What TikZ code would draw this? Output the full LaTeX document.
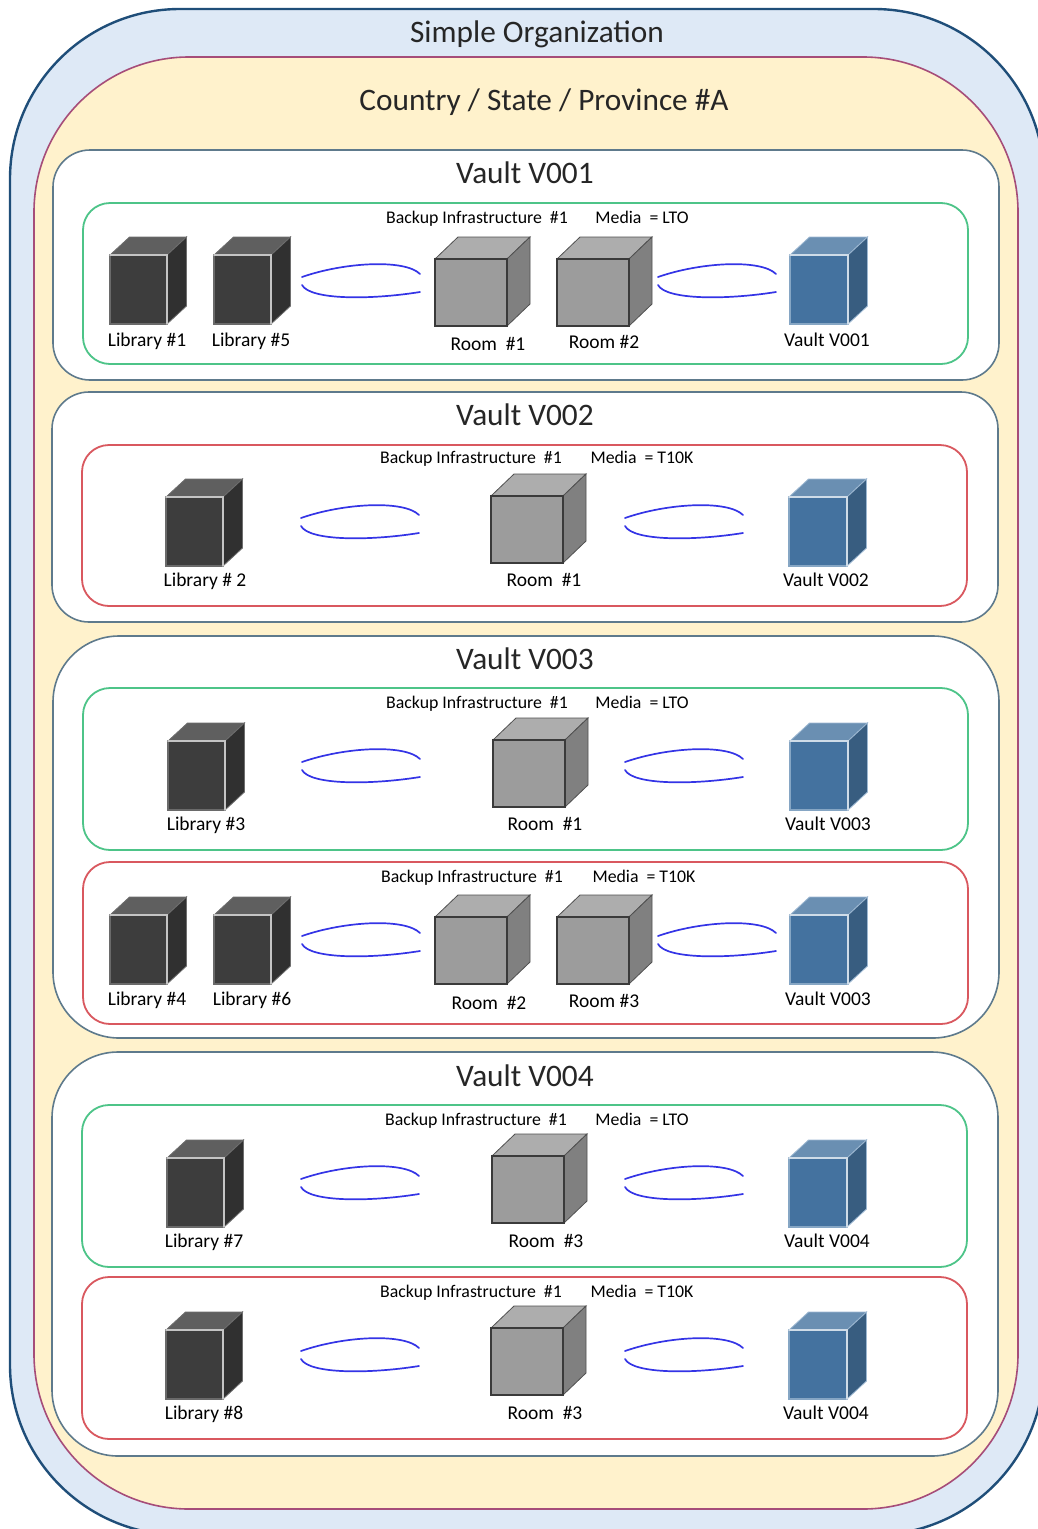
\documentclass[tikz,border=0pt]{standalone}
\usepackage{fontspec}
\setmainfont{Carlito}
\definecolor{orgfill}{HTML}{DEE9F6}\definecolor{orgline}{HTML}{1F4E79}
\definecolor{ctryfill}{HTML}{FFF2CC}\definecolor{ctryline}{HTML}{A64D79}
\definecolor{vaultline}{HTML}{5E7A8C}\definecolor{grn}{HTML}{4DC488}\definecolor{rd}{HTML}{D9585F}
\definecolor{libF}{HTML}{3D3D3D}\definecolor{libT}{HTML}{5F5F5F}\definecolor{libS}{HTML}{303030}\definecolor{libE}{HTML}{C4C4C4}\definecolor{libL}{HTML}{6A6A6A}\definecolor{libO}{HTML}{6E6E6E}
\definecolor{rmF}{HTML}{9C9C9C}\definecolor{rmT}{HTML}{ADADAD}\definecolor{rmS}{HTML}{808080}\definecolor{rmE}{HTML}{3A3A3A}\definecolor{rmL}{HTML}{3A3A3A}\definecolor{rmO}{HTML}{505050}
\definecolor{vtF}{HTML}{44729F}\definecolor{vtT}{HTML}{6A8FB2}\definecolor{vtS}{HTML}{385D80}\definecolor{vtE}{HTML}{CFDCE8}\definecolor{vtL}{HTML}{86A6C4}\definecolor{vtO}{HTML}{9DB8D2}
\definecolor{txt}{HTML}{262626}\definecolor{lnkc}{HTML}{3434E6}
\tikzset{
  x=1pt,y=-1pt,
  title/.style={font=\fontsize{31.3}{33}\selectfont,text=txt,inner sep=0pt},
  smalltxt/.style={font=\fontsize{19.5}{21}\selectfont,text=black,inner sep=0pt,anchor=base,yshift=-6pt},
  headtxt/.style={font=\fontsize{17.8}{20}\selectfont,text=black,inner sep=0pt,anchor=base,yshift=-5pt},
  vaultbox/.style={draw=vaultline,line width=1.6pt,fill=white},
  greenbox/.style={draw=grn,line width=1.8pt,fill=white,rounded corners=27pt},
  redbox/.style={draw=rd,line width=1.8pt,fill=white,rounded corners=27pt},
  linkline/.style={draw=lnkc,line width=1.7pt,line cap=round},
}
% \cube{name}{prefix colour}{x}{y}{w}{h}{dx}{dy}
\newcommand{\cube}[8]{%
  \coordinate (#1nw) at (#3,#4);
  \coordinate (#1ne) at (#3+#5,#4);
  \coordinate (#1se) at (#3+#5,#4+#6);
  \coordinate (#1sw) at (#3,#4+#6);
  \coordinate (#1tl) at (#3+#7,#4-#8);
  \coordinate (#1tr) at (#3+#5+#7,#4-#8);
  \coordinate (#1br) at (#3+#5+#7,#4+#6-#8);
  \fill[#2T,draw=#2O,line width=.8pt] (#1nw)--(#1tl)--(#1tr)--(#1ne)--cycle;
  \fill[#2S,draw=#2O,line width=.8pt] (#1ne)--(#1tr)--(#1br)--(#1se)--cycle;
  \fill[#2F,draw=#2L,line width=1.2pt] (#1nw)--(#1ne)--(#1se)--(#1sw)--cycle;
  \draw[#2E,line width=1.6pt,line cap=round] (#1nw)--(#1ne)--(#1se);
}
\newcommand{\libcube}[3]{\cube{#1}{lib}{#2}{#3}{57}{69}{19.5}{18}}
\newcommand{\roomcube}[3]{\cube{#1}{rm}{#2}{#3}{72}{67}{23}{22}}
\newcommand{\vaultcube}[3]{\cube{#1}{vt}{#2}{#3}{58}{69}{19.5}{18}}
% \lnk{name}{x}{y}
\newcommand{\lnk}[3]{%
  \coordinate (#1a) at (#2,#3);
  \coordinate (#1b) at (#2+118,#3-3);
  \coordinate (#1c) at (#2,#3+8);
  \coordinate (#1d) at (#2+118,#3+15);
  \draw[linkline] (#1a) .. controls +(43,-15) and +(-15,-15) .. (#1b);
  \draw[linkline] (#1c) .. controls +(8,15) and +(-50,8) .. (#1d);
}
\newcommand{\hdr}[5]{%
  \node[headtxt] (#1a) at (#2,#4) {Backup Infrastructure \ \#1};
  \node[headtxt] (#1b) at (#3,#4) {Media \ = #5};
}
\begin{document}
\begin{tikzpicture}
\useasboundingbox (0,0) rectangle (1038,1529);
\fill[white] (0,0) rectangle (1038,1529);
\begin{scope}
\clip (0,0) rectangle (1038,1529);
\draw[orgline,fill=orgfill,line width=2.4pt,rounded corners=170pt] (10,9) rectangle (1044,1535);
\end{scope}
\draw[ctryline,fill=ctryfill,line width=1.6pt,rounded corners=155pt] (34,57) rectangle (1018,1509);
\node[title] (torg) at (537,34) {Simple Organization};
\node[title] (tctry) at (544,102) {Country / State / Province \#A};

\draw[vaultbox,rounded corners=37pt] (53,150) rectangle (999,380);
\draw[vaultbox,rounded corners=37pt] (52,392) rectangle (998,622);
\draw[vaultbox,rounded corners=66pt] (53,636) rectangle (999,1038);
\draw[vaultbox,rounded corners=66pt] (52,1052) rectangle (998,1456);
\node[title] (tv1) at (525,173) {Vault V001};
\node[title] (tv2) at (525,415) {Vault V002};
\node[title] (tv3) at (525,659) {Vault V003};
\node[title] (tv4) at (525,1076) {Vault V004};

\draw[greenbox] (83,203) rectangle (968,364);
\draw[redbox] (82,445) rectangle (967,606);
\draw[greenbox] (83,688) rectangle (968,850);
\draw[redbox] (83,862) rectangle (968,1024);
\draw[greenbox] (82,1105) rectangle (967,1267);
\draw[redbox] (82,1277) rectangle (967,1439);

\hdr{ha}{477}{642}{218}{LTO}
\hdr{hb}{471}{642}{458}{T10K}
\hdr{hc}{477}{642}{703}{LTO}
\hdr{hd}{472}{644}{877}{T10K}
\hdr{he}{476}{642}{1120}{LTO}
\hdr{hf}{471}{642}{1292}{T10K}

% V001
\libcube{la}{110}{255}\libcube{lb}{214}{255}\roomcube{ra}{435}{259}\roomcube{rb}{557}{259}\vaultcube{va}{790}{255}
\lnk{ka}{302}{277}\lnk{kb}{658}{277}
\node[smalltxt] (a1) at (147,340) {Library \#1};
\node[smalltxt] (a2) at (251,340) {Library \#5};
\node[smalltxt] (a3) at (488,344) {Room \ \#1};
\node[smalltxt] (a4) at (604,342) {Room \#2};
\node[smalltxt] (a5) at (827,340) {Vault V001};
% V002
\libcube{lc}{166}{497}\roomcube{rc}{491}{496}\vaultcube{vb}{789}{497}
\lnk{kc}{301}{518}\lnk{kd}{625}{518}
\node[smalltxt] (b1) at (205,580) {Library \# 2};
\node[smalltxt] (b2) at (544,580) {Room \ \#1};
\node[smalltxt] (b3) at (826,580) {Vault V002};
% V003 a
\libcube{ld}{168}{741}\roomcube{rd}{493}{740}\vaultcube{vc}{790}{741}
\lnk{ke}{302}{762}\lnk{kf}{625}{762}
\node[smalltxt] (c1) at (206,824) {Library \#3};
\node[smalltxt] (c2) at (545,824) {Room \ \#1};
\node[smalltxt] (c3) at (828,824) {Vault V003};
% V003 b
\libcube{le}{110}{915}\libcube{lf}{214}{915}\roomcube{re}{435}{917}\roomcube{rf}{557}{917}\vaultcube{vd}{790}{915}
\lnk{kg}{302}{936}\lnk{kh}{658}{936}
\node[smalltxt] (d1) at (147,999) {Library \#4};
\node[smalltxt] (d2) at (252,999) {Library \#6};
\node[smalltxt] (d3) at (489,1003) {Room \ \#2};
\node[smalltxt] (d4) at (604,1001) {Room \#3};
\node[smalltxt] (d5) at (828,999) {Vault V003};
% V004 a
\libcube{lg}{167}{1158}\roomcube{rg}{492}{1156}\vaultcube{ve}{789}{1158}
\lnk{ki}{301}{1179}\lnk{kj}{625}{1179}
\node[smalltxt] (e1) at (204,1241) {Library \#7};
\node[smalltxt] (e2) at (546,1241) {Room \ \#3};
\node[smalltxt] (e3) at (827,1241) {Vault V004};
% V004 b
\libcube{lh}{166}{1330}\roomcube{rh}{491}{1328}\vaultcube{vf}{789}{1330}
\lnk{kk}{301}{1351}\lnk{kl}{625}{1351}
\node[smalltxt] (f1) at (204,1413) {Library \#8};
\node[smalltxt] (f2) at (545,1413) {Room \ \#3};
\node[smalltxt] (f3) at (826,1413) {Vault V004};
\end{tikzpicture}
\end{document}
